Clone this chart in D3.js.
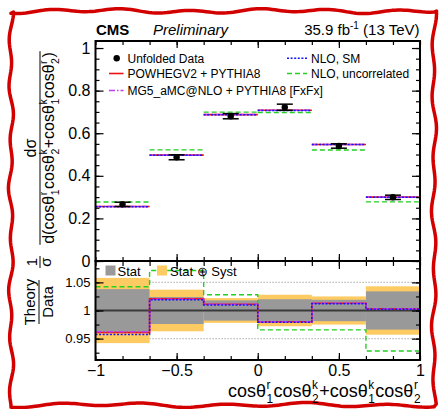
<!DOCTYPE html>
<html>
<head>
<meta charset="utf-8">
<script src="https://cdn.jsdelivr.net/npm/d3@7"></script>
<style>
  html, body { margin: 0; padding: 0; background: #fff; }
  svg { display: block; font-family: "Liberation Sans", Arial, Helvetica, sans-serif; }
</style>
</head>
<body>
<svg id="chart" width="443" height="409"></svg>
<script>
// Bin edges of cosθr1·cosθk2 + cosθk1·cosθr2
const binEdges = [-1, -2/3, -1/3, 0, 1/3, 2/3, 1];

// Normalised differential cross section, unfolded data
const dataValues = [0.266, 0.487, 0.680, 0.722, 0.540, 0.299];
// Relative uncertainties on the data (stat, stat ⊕ syst)
const relStat  = [0.038, 0.024, 0.018, 0.020, 0.019, 0.034];
const relTotal = [0.058, 0.037, 0.022, 0.028, 0.025, 0.043];

// Predictions
const powhegValues  = [0.2556, 0.4972, 0.6875, 0.7076, 0.5470, 0.2999];
const mg5Values     = [0.2559, 0.4967, 0.6875, 0.7076, 0.5470, 0.2999];
const nloSMValues   = [0.2546, 0.4963, 0.6868, 0.7068, 0.5465, 0.2996];
const nloUncValues  = [0.2772, 0.5216, 0.6990, 0.6971, 0.5214, 0.2775];

// Tick values and labels
const xMajorTicks = [-1, -0.5, 0, 0.5, 1];
const yUpperTicks = [0, 0.2, 0.4, 0.6, 0.8, 1];
const yRatioTicks = [0.95, 1, 1.05];

const svg = d3.select('#chart');
const W = 443, H = 409;

// hand-drawn style red frame around the figure
(function frame() {
  const pts = [];
  const wob = (t, a, b) => 1.6 * Math.sin(t / a) + 1.0 * Math.sin(t / b + 1.3);
  const x0 = 11, x1 = 434, y0 = 11, y1 = 405;
  for (let x = x0; x <= x1; x += 3) pts.push([x, y0 + wob(x, 11, 29)]);
  for (let y = y0; y <= y1; y += 3) pts.push([x1 + wob(y, 9, 21), y]);
  for (let x = x1; x >= x0; x -= 3) pts.push([x, y1 + wob(x, 13, 31)]);
  for (let y = y1; y >= y0; y -= 3) pts.push([x0 + wob(y, 8, 19), y]);
  svg.append('path')
    .attr('d', d3.line()(pts) + 'Z')
    .attr('fill', 'none')
    .attr('stroke', '#d30000')
    .attr('stroke-width', 3.5)
    .attr('stroke-linejoin', 'round');
})();

const left = 95.5, right = 420;
const upTop = 41, upBot = 261, loBot = 360;

const x = d3.scaleLinear().domain([-1, 1]).range([left, right]);
const yU = d3.scaleLinear().domain([0, 1.033]).range([upBot, upTop]);
const yR = d3.scaleLinear().domain([0.912, 1.088]).range([loBot, upBot]);

const xMinor = d3.range(-1, 1.0001, 1 / 6);
const minorU = d3.range(0, 1.0301, 0.05);
const minorR = d3.range(0.925, 1.0876, 0.025);

function styleAxis(g) {
  g.select('.domain').remove();
  g.selectAll('.tick line').attr('stroke', '#000').attr('stroke-width', 1.2);
}

function xTickAxes(yPos, dirUp, withLabels) {
  // minor ticks
  const gen = dirUp ? d3.axisBottom(x) : d3.axisTop(x);
  svg.append('g').attr('transform', `translate(0,${yPos})`)
    .call((dirUp ? d3.axisBottom(x) : d3.axisTop(x)).tickValues(xMinor).tickSize(-4).tickFormat(''))
    .call(styleAxis);
  const major = (dirUp ? d3.axisBottom(x) : d3.axisTop(x)).tickValues([-0.5, 0, 0.5]).tickSize(-7).tickFormat('');
  svg.append('g').attr('transform', `translate(0,${yPos})`).call(major).call(styleAxis);
  if (withLabels) {
    const g = svg.append('g').attr('transform', `translate(0,${yPos})`)
      .call(d3.axisBottom(x).tickValues(xMajorTicks).tickSize(0).tickPadding(5)
        .tickFormat(d => d3.format('~g')(d)));
    g.select('.domain').remove();
    g.selectAll('text').attr('font-size', 16).attr('font-family', '"Liberation Sans", Arial, sans-serif').attr('fill', '#000');
  }
}

// ---------- lower panel: ratio bands ----------
const bins = dataValues.map((d, i) => ({ i, x0: binEdges[i], x1: binEdges[i + 1] }));

const clipR = svg.append('clipPath').attr('id', 'clipR').append('rect')
  .attr('x', left).attr('y', upBot).attr('width', right - left).attr('height', loBot - upBot);

const lower = svg.append('g').attr('clip-path', 'url(#clipR)');

// reference lines at ±5 %
[0.95, 1.05].forEach(v => {
  lower.append('line').attr('x1', left).attr('x2', right).attr('y1', yR(v)).attr('y2', yR(v))
    .attr('stroke', '#aaa').attr('stroke-width', 1.2).attr('stroke-dasharray', '1.2,1.8');
});

lower.selectAll('rect.tot').data(bins).join('rect').attr('class', 'tot')
  .attr('x', d => x(d.x0)).attr('width', d => x(d.x1) - x(d.x0))
  .attr('y', d => yR(1 + relTotal[d.i])).attr('height', d => yR(1 - relTotal[d.i]) - yR(1 + relTotal[d.i]))
  .attr('fill', '#fecb63');
lower.selectAll('rect.stat').data(bins).join('rect').attr('class', 'stat')
  .attr('x', d => x(d.x0)).attr('width', d => x(d.x1) - x(d.x0))
  .attr('y', d => yR(1 + relStat[d.i])).attr('height', d => yR(1 - relStat[d.i]) - yR(1 + relStat[d.i]))
  .attr('fill', '#999999');

lower.append('line').attr('x1', left).attr('x2', right).attr('y1', yR(1)).attr('y2', yR(1))
  .attr('stroke', '#3a3a3a').attr('stroke-width', 2);

const series = [
  { name: 'NLO, uncorrelated', values: nloUncValues, color: '#22d022', dash: '5,3', width: 1.4 },
  { name: 'POWHEGV2 + PYTHIA8', values: powhegValues, color: '#ee1111', dash: null, width: 1.6 },
  { name: 'MG5_aMC@NLO + PYTHIA8 [FxFx]', values: mg5Values, color: '#c23cf0', dash: '6,2,1.5,2', width: 1.5 },
  { name: 'NLO, SM', values: nloSMValues, color: '#1414ff', dash: '2,1.6', width: 1.5 },
];

const stepLine = d3.line().curve(d3.curveStepAfter).x(d => x(d[0])).y(d => yR(d[1]));
series.forEach(s => {
  const ratios = s.values.map((v, i) => v / dataValues[i]);
  const pts = binEdges.map((e, i) => [e, ratios[Math.min(i, ratios.length - 1)]]);
  lower.append('path').attr('d', stepLine(pts)).attr('fill', 'none')
    .attr('stroke', s.color).attr('stroke-width', s.width)
    .attr('stroke-dasharray', s.dash);
});

// ---------- upper panel ----------
const upper = svg.append('g');
series.forEach(s => {
  upper.selectAll(null).data(bins).join('line')
    .attr('x1', d => x(d.x0)).attr('x2', d => x(d.x1))
    .attr('y1', d => yU(s.values[d.i])).attr('y2', d => yU(s.values[d.i]))
    .attr('stroke', s.color).attr('stroke-width', s.width)
    .attr('stroke-dasharray', s.dash);
});

// data points with error bars
const dataG = upper.selectAll('g.pt').data(bins).join('g').attr('class', 'pt');
dataG.each(function (d) {
  const g = d3.select(this);
  const cx = x((d.x0 + d.x1) / 2);
  const v = dataValues[d.i], e = v * relStat[d.i];
  g.append('line').attr('x1', cx).attr('x2', cx).attr('y1', yU(v - e)).attr('y2', yU(v + e))
    .attr('stroke', '#000').attr('stroke-width', 1.5);
  [v - e, v + e].forEach(c => g.append('line').attr('x1', cx - 8).attr('x2', cx + 8)
    .attr('y1', yU(c)).attr('y2', yU(c)).attr('stroke', '#000').attr('stroke-width', 1.5));
  g.append('circle').attr('cx', cx).attr('cy', yU(v)).attr('r', 3.2).attr('fill', '#000');
});

// ---------- axes ----------
// upper panel y
let g = svg.append('g').attr('transform', `translate(${left},0)`)
  .call(d3.axisLeft(yU).tickValues(minorU).tickSize(-4).tickFormat('')).call(styleAxis);
g = svg.append('g').attr('transform', `translate(${left},0)`)
  .call(d3.axisLeft(yU).tickValues(yUpperTicks).tickSize(-8).tickPadding(5).tickFormat(d3.format('~g')))
  .call(styleAxis);
g.selectAll('text').attr('font-size', 16).attr('font-family', '"Liberation Sans", Arial, sans-serif').attr('fill', '#000');
svg.append('g').attr('transform', `translate(${right},0)`)
  .call(d3.axisRight(yU).tickValues(minorU).tickSize(-4).tickFormat('')).call(styleAxis);
svg.append('g').attr('transform', `translate(${right},0)`)
  .call(d3.axisRight(yU).tickValues(yUpperTicks).tickSize(-8).tickFormat('')).call(styleAxis);

// lower panel y
svg.append('g').attr('transform', `translate(${left},0)`)
  .call(d3.axisLeft(yR).tickValues(minorR).tickSize(-4).tickFormat('')).call(styleAxis);
g = svg.append('g').attr('transform', `translate(${left},0)`)
  .call(d3.axisLeft(yR).tickValues(yRatioTicks).tickSize(-8).tickPadding(5).tickFormat(d3.format('~g')))
  .call(styleAxis);
g.selectAll('text').attr('font-size', 13).attr('font-family', '"Liberation Sans", Arial, sans-serif').attr('fill', '#000');
svg.append('g').attr('transform', `translate(${right},0)`)
  .call(d3.axisRight(yR).tickValues(minorR).tickSize(-4).tickFormat('')).call(styleAxis);
svg.append('g').attr('transform', `translate(${right},0)`)
  .call(d3.axisRight(yR).tickValues(yRatioTicks).tickSize(-8).tickFormat('')).call(styleAxis);

// x ticks on all horizontal frame edges
xTickAxes(upTop, false, false);
xTickAxes(upBot, true, false);
xTickAxes(upBot + 1, false, false);
xTickAxes(loBot, true, true);

// frames
svg.append('rect').attr('x', left).attr('y', upTop).attr('width', right - left).attr('height', upBot - upTop)
  .attr('fill', 'none').attr('stroke', '#000').attr('stroke-width', 2);
svg.append('rect').attr('x', left).attr('y', upBot).attr('width', right - left).attr('height', loBot - upBot)
  .attr('fill', 'none').attr('stroke', '#000').attr('stroke-width', 2);

// ---------- legends ----------
const leg = svg.append('g').attr('font-size', 12).attr('fill', '#000');
leg.append('circle').attr('cx', 116.7).attr('cy', 58.3).attr('r', 3.2).attr('fill', '#000');
leg.append('text').attr('x', 127.5).attr('y', 62.5).text('Unfolded Data');
const legRows = [
  { s: series[1], lx: 109, tx: 127.5, y: 73.5 },
  { s: series[2], lx: 109, tx: 127.5, y: 90.5 },
  { s: series[3], lx: 287, tx: 311, y: 58.3 },
  { s: series[0], lx: 287, tx: 311, y: 73.5 },
];
legRows.forEach(r => {
  leg.append('line').attr('x1', r.lx).attr('x2', r.tx - 4).attr('y1', r.y).attr('y2', r.y)
    .attr('stroke', r.s.color).attr('stroke-width', r.s.width).attr('stroke-dasharray', r.s.dash);
  leg.append('text').attr('x', r.tx).attr('y', r.y + 4.2).text(r.s.name);
});

const legR = svg.append('g').attr('font-size', 13).attr('fill', '#000');
legR.append('rect').attr('x', 105.5).attr('y', 265.5).attr('width', 10).attr('height', 10).attr('fill', '#999999');
legR.append('text').attr('x', 117.5).attr('y', 276).text('Stat');
legR.append('rect').attr('x', 157).attr('y', 265.5).attr('width', 10).attr('height', 10).attr('fill', '#fecb63');
legR.append('text').attr('x', 170).attr('y', 276).text('Stat \u2295 Syst');

// ---------- header ----------
svg.append('text').attr('x', 96).attr('y', 35).attr('font-size', 15).attr('font-weight', 'bold').text('CMS');
svg.append('text').attr('x', 153).attr('y', 35).attr('font-size', 15).attr('font-style', 'italic').text('Preliminary');
const lumi = svg.append('text').attr('x', 419.5).attr('y', 35).attr('font-size', 15).attr('text-anchor', 'end');
lumi.append('tspan').text('35.9 fb');
lumi.append('tspan').attr('font-size', 10).attr('dy', -6).text('-1');
lumi.append('tspan').attr('dy', 6).text(' (13 TeV)');

// ---------- math labels ----------
function mathText(parent, parts, size) {
  const inner = parent.append('g');
  let cx = 0;
  parts.forEach(p => {
    if (typeof p === 'string') {
      const t = inner.append('text').attr('x', cx).attr('y', 0).attr('font-size', size).text(p);
      cx += t.node().getComputedTextLength();
    } else {
      const s = size * 0.66;
      const a = inner.append('text').attr('x', cx + 0.5).attr('y', -size * 0.42).attr('font-size', s).text(p.sup);
      const b = inner.append('text').attr('x', cx + 0.5).attr('y', size * 0.32).attr('font-size', s).text(p.sub);
      cx += Math.max(a.node().getComputedTextLength(), b.node().getComputedTextLength()) + 1;
    }
  });
  return { inner, width: cx };
}

const varParts = [
  'cosθ', { sup: 'r', sub: '1' }, 'cosθ', { sup: 'k', sub: '2' }, '+',
  'cosθ', { sup: 'k', sub: '1' }, 'cosθ', { sup: 'r', sub: '2' },
];

// x axis title, right aligned
const xt = svg.append('g').attr('transform', `translate(0,397)`);
const xm = mathText(xt, varParts, 18);
xm.inner.attr('transform', `translate(${421 - xm.width},0)`);

// upper y title: (1/σ) dσ / d(...)
const yt = svg.append('g').attr('transform', 'translate(40,148) rotate(-90)');
const den = mathText(yt, ['d('].concat(varParts, [')']), 16);
den.inner.attr('transform', `translate(${-den.width / 2},14)`);
yt.append('line').attr('x1', -den.width / 2 - 1).attr('x2', den.width / 2 + 1).attr('y1', 0).attr('y2', 0)
  .attr('stroke', '#000').attr('stroke-width', 1);
yt.append('text').attr('x', 0).attr('y', -4).attr('font-size', 16).attr('text-anchor', 'middle').text('dσ');

const ys = svg.append('g').attr('transform', 'translate(40,262) rotate(-90)');
ys.append('line').attr('x1', -6).attr('x2', 6).attr('y1', 0).attr('y2', 0).attr('stroke', '#000').attr('stroke-width', 1);
ys.append('text').attr('x', 0).attr('y', -3).attr('font-size', 15).attr('text-anchor', 'middle').text('1');
ys.append('text').attr('x', 0).attr('y', 11).attr('font-size', 15).attr('text-anchor', 'middle').text('σ');

// ratio y title
const yr = svg.append('g').attr('transform', 'translate(39,302) rotate(-90)');
yr.append('line').attr('x1', -22).attr('x2', 22).attr('y1', 0).attr('y2', 0).attr('stroke', '#000').attr('stroke-width', 1);
yr.append('text').attr('x', 0).attr('y', -4).attr('font-size', 15).attr('text-anchor', 'middle').text('Theory');
yr.append('text').attr('x', 0).attr('y', 14).attr('font-size', 15).attr('text-anchor', 'middle').text('Data');
</script>
</body>
</html>
